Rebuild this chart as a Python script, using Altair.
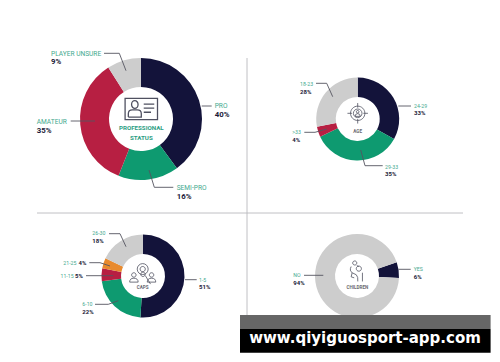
import math
import altair as alt
import pandas as pd

NAVY, RED, GREEN, GREY, ORANGE = "#13133a", "#b71f42", "#0e9a70", "#cdcdcd", "#e88a2e"
TEAL, INK, LINE, ICON = "#3fa98e", "#1a1a38", "#555560", "#4f5060"
M = 8  # page margin
FONT = "Roboto"

status_cats = ["PRO", "SEMI-PRO", "AMATEUR", "PLAYER UNSURE"]
status_vals = [40, 16, 35, 9]
status_cols = [NAVY, GREEN, RED, GREY]
age_cats = ["24-29", "29-33", ">33", "18-23"]
age_vals = [33, 35, 4, 28]
age_cols = [NAVY, GREEN, RED, GREY]
caps_cats = ["1-5", "6-10", "11-15", "21-25", "26-30"]
caps_vals = [51, 22, 5, 4, 18]
caps_cols = [NAVY, GREEN, RED, ORANGE, GREY]
child_cats = ["YES", "NO"]
child_vals = [6, 94]
child_cols = [NAVY, GREY]


def donut(cats, vals, cols, cx, cy, r0, r1, start=0.0):
    df = pd.DataFrame({"c": cats, "v": vals, "col": cols, "i": range(len(cats))})
    return alt.Chart(df).mark_arc(innerRadius=r0, outerRadius=r1).encode(
        x=alt.value(cx - M), y=alt.value(cy - M),
        theta=alt.Theta("v:Q", stack=True,
                        scale=alt.Scale(domain=[0, 100], range=[start, start + 2 * math.pi])),
        order=alt.Order("i:Q"),
        color=alt.Color("col:N", scale=None),
    )


def texts(rows, color, size, weight, font=FONT, align="left"):
    df = pd.DataFrame(rows, columns=["t", "x", "y"])
    df["x"] -= M
    df["y"] -= M
    return alt.Chart(df).mark_text(color=color, fontSize=size, fontWeight=weight, font=font,
                                   align=align, baseline="middle").encode(
        x=alt.X("x:Q", scale=None, axis=None), y=alt.Y("y:Q", scale=None, axis=None), text="t:N")


cat_labels = [("PLAYER UNSURE", 51, 53.7), ("AMATEUR", 36.7, 121.7), ("PRO", 214.7, 106), ("SEMI-PRO", 176.7, 188)]
cat_small = [("18-23", 300, 84.3), ("24-29", 414, 105.7), ("29-33", 385, 166.7), (">33", 292.3, 132.3),
             ("26-30", 92.3, 233.3), ("21-25", 63.3, 262.7), ("11-15", 60.5, 275.7), ("6-10", 82.3, 304.3),
             ("1-5", 199, 279.7), ("NO", 293.3, 275.3), ("YES", 413.7, 269.3)]
pct_labels = [("9%", 51, 62.3), ("35%", 36.7, 130.7), ("40%", 214.7, 115), ("16%", 176.7, 197)]
pct_small = [("28%", 300, 91.7), ("33%", 414, 113.3), ("35%", 385, 174), ("4%", 292.3, 140),
             ("18%", 92.3, 241), ("4%", 78.5, 262.7), ("5%", 75, 275.7), ("22%", 82.3, 311.7),
             ("51%", 199, 287), ("94%", 293.3, 282.7), ("6%", 413.7, 276.7)]
center_big = [("PROFESSIONAL", 141.3, 128.3), ("STATUS", 141.3, 138.3)]
center_small = [("AGE", 357.7, 132.3), ("CAPS", 142.7, 288.3), ("CHILDREN", 357.3, 287.7)]

leaders = [
    [(104, 53.3), (119.3, 53.3), (126, 70.7)], [(201.7, 106), (211.7, 106)], [(70.7, 121), (95, 121)],
    [(149, 170), (154.3, 187.3), (173.3, 187.3)],
    [(316, 83.3), (326.7, 83.3), (332.7, 96.7)], [(398.3, 106), (411, 106)],
    [(360.7, 150), (365, 165.7), (382.7, 165.7)], [(304.3, 132.3), (315, 132.3), (326.7, 129)],
    [(109, 233.7), (120, 233.7), (126, 246.7)], [(89.3, 262.7), (100, 262.7), (110, 266)],
    [(86, 275.7), (113.3, 275.7)], [(95, 304.3), (108.3, 304.3), (118.3, 300.7)], [(185, 279.7), (196.7, 279.7)],
    [(304, 275.3), (323.3, 275.3)], [(398.3, 269.3), (410.7, 269.3)],
]
lead_rows = [{"g": g, "k": k, "x": p[0] - M, "y": p[1] - M} for g, pts in enumerate(leaders) for k, p in enumerate(pts)]
lead = alt.Chart(pd.DataFrame(lead_rows)).mark_line(color=LINE, strokeWidth=0.9).encode(
    x=alt.X("x:Q", scale=None, axis=None), y=alt.Y("y:Q", scale=None, axis=None),
    detail="g:N", order="k:Q")

grid = pd.DataFrame({"x": [247 - M, 37 - M], "x2": [247 - M, 463 - M], "y": [58 - M, 213 - M], "y2": [320 - M, 213 - M]})
rules = alt.Chart(grid).mark_rule(color="#b9b9bd", strokeWidth=0.9).encode(
    x=alt.X("x:Q", scale=None, axis=None), x2="x2:Q",
    y=alt.Y("y:Q", scale=None, axis=None), y2="y2:Q")

ICONS = {
    "card": ("M-1,-.66H1V.66H-1Z M-.6,-.28a.2,.24 0 1 0 .4,0a.2,.24 0 1 0 -.4,0 "
             "M-.8,.5V.3Q-.8,.05 -.55,.05H-.25Q0,.05 0,.3V.5H-.8 M.15,-.3H.8 M.15,-.05H.8 M.15,.2H.6", 1050, 1.3),
    "age": ("M-.7,0a.7,.7 0 1 0 1.4,0a.7,.7 0 1 0 -1.4,0 M-.42,0a.42,.42 0 1 0 .84,0a.42,.42 0 1 0 -.84,0 "
            "M0,-1V-.55 M0,.55V1 M-1,0H-.55 M.55,0H1 M-.13,-.15a.13,.13 0 1 0 .26,0a.13,.13 0 1 0 -.26,0 "
            "M-.25,.3Q-.25,.03 0,.03Q.25,.03 .25,.3Z", 420, 0.8),
    "caps": ("M-.42,-.4a.42,.42 0 1 0 .84,0a.42,.42 0 1 0 -.84,0 M-.2,-.4a.2,.2 0 1 0 .4,0a.2,.2 0 1 0 -.4,0 "
             "M-.85,.05a.17,.17 0 1 0 .34,0a.17,.17 0 1 0 -.34,0 M-1,.6Q-1,.3 -.68,.3Q-.35,.3 -.35,.6Z "
             "M.51,.05a.17,.17 0 1 0 .34,0a.17,.17 0 1 0 -.34,0 M.35,.6Q.35,.3 .68,.3Q1,.3 1,.6Z "
             "M-.15,.0a.17,.17 0 1 0 .34,0a.17,.17 0 1 0 -.34,0 M.2,.1L.6,.75", 680, 0.8),
    "child": ("M-.1,-.3a.25,.25 0 1 0 .5,0a.25,.25 0 1 0 -.5,0 M-.45,-.85a.2,.2 0 1 0 .4,0a.2,.2 0 1 0 -.4,0 "
              "M-.6,-.5Q-.8,-.1 -.5,.1L-.1,.3Q.1,.5 .05,.95 M.5,.95V.1 M-.05,-.6L.15,-.5 M-.5,.1L-.6,.5L-.3,.6", 420, 0.8),
}
ICON_POS = {"card": (141.3, 109), "age": (357.7, 113.3), "caps": (142.7, 274.3), "child": (357.3, 271.7)}


def icon(name):
    path, size, sw = ICONS[name]
    x, y = ICON_POS[name]
    df = pd.DataFrame({"n": [name]})
    return alt.Chart(df).mark_point(shape=path, size=size, filled=False, color=ICON, strokeWidth=sw, opacity=1).encode(
        x=alt.value(x - M), y=alt.value(y - M))


band = pd.DataFrame({"x": [240 - M, 240 - M], "x2": [490.6 - M, 490.6 - M],
                     "y": [315 - M, 329 - M], "y2": [329 - M, 352.7 - M], "c": ["#666666", "#000000"]})
banner = alt.Chart(band).mark_rect().encode(
    x=alt.X("x:Q", scale=None, axis=None), x2="x2:Q",
    y=alt.Y("y:Q", scale=None, axis=None), y2="y2:Q",
    color=alt.Color("c:N", scale=None))

chart = alt.layer(
    rules,
    donut(status_cats, status_vals, status_cols, 141, 119, 32, 61),
    donut(age_cats, age_vals, age_cols, 357.7, 119, 22, 41.5),
    donut(caps_cats, caps_vals, caps_cols, 143, 276, 22, 41.5),
    donut(child_cats, child_vals, child_cols, 357, 276, 22, 42, start=1.24),
    lead,
    texts(cat_labels, TEAL, 6.6, "normal"),
    texts(cat_small, TEAL, 5.2, "normal"),
    texts(pct_labels, INK, 7.8, "bold"),
    texts(pct_small, INK, 6, "bold"),
    texts(center_big, "#2a9d82", 6.2, "bold", align="center"),
    texts(center_small, "#6a6a72", 4.6, "bold", align="center"),
    icon("card"), icon("age"), icon("caps"), icon("child"),
    banner,
    texts([("www.qiyiguosport-app.com", 365, 337.5)], "#ffffff", 15, "bold", font="DejaVu Sans", align="center"),
).resolve_scale(theta="independent").properties(
    width=484, height=346, padding=0, autosize=alt.AutoSizeParams(type="none"), background="#ffffff"
).configure_view(stroke=None)

chart.save("out.html", embed_options={"renderer": "svg", "actions": False})
